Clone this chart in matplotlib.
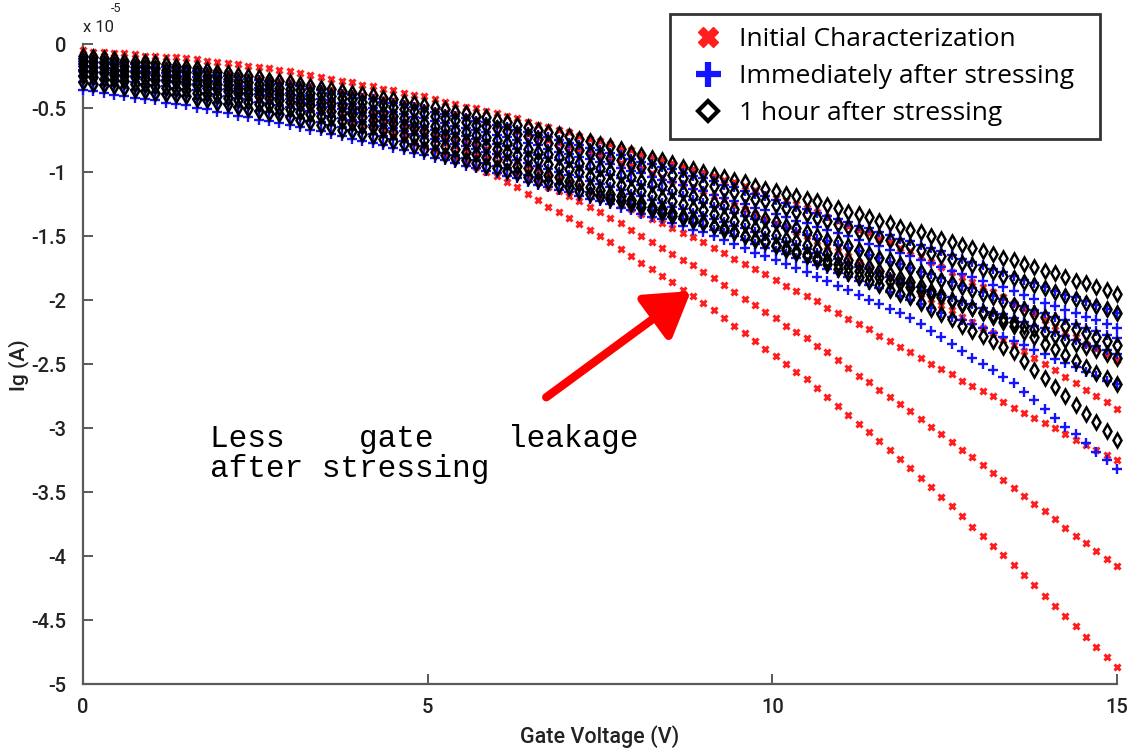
import numpy as np
import matplotlib
matplotlib.use("Agg")
import matplotlib.pyplot as plt
from matplotlib.lines import Line2D
from matplotlib.ticker import FixedLocator, FuncFormatter

plt.rcParams["axes.unicode_minus"] = False

# Gate voltage sweep, 0 V to 15 V in 0.15 V steps
gate_voltage = np.linspace(0.0, 15.0, 101)

# |Ig| for each device, in units of 0.01 x 10^-5 A (gate current is negative)
# Initial characterization
initial_1 = [5, 6, 6, 7, 7, 8, 9, 9, 10, 10, 11, 12, 13, 14, 15, 16, 17, 18, 19, 20,
             21, 23, 24, 26, 27, 29, 30, 32, 33, 35, 36, 38, 40, 41, 43, 45, 47, 49, 50, 52,
             54, 56, 58, 61, 63, 65, 67, 69, 72, 74, 76, 78, 81, 83, 86, 88, 90, 93, 95, 98,
             100, 103, 106, 108, 111, 114, 117, 120, 122, 125, 128, 131, 135, 138, 142, 145, 148, 152, 155, 159,
             162, 166, 170, 174, 178, 182, 186, 190, 194, 198, 202, 207, 211, 216, 220, 225, 229, 234, 238, 243, 247]
initial_2 = [10, 11, 12, 12, 13, 14, 15, 16, 16, 17, 18, 19, 20, 21, 22, 24, 25, 26, 27, 28,
             29, 31, 32, 34, 35, 37, 38, 40, 41, 43, 44, 46, 48, 50, 52, 54, 55, 57, 59, 61,
             63, 65, 68, 70, 73, 75, 77, 80, 82, 85, 87, 90, 93, 95, 98, 101, 104, 107, 109, 112,
             115, 119, 122, 126, 129, 133, 136, 140, 143, 147, 150, 154, 158, 162, 166, 170, 174, 178, 182, 186,
             190, 195, 199, 204, 208, 213, 217, 222, 226, 231, 235, 240, 245, 250, 255, 260, 265, 270, 275, 280, 285]
initial_3 = [13, 14, 15, 16, 17, 19, 20, 21, 22, 23, 24, 25, 27, 28, 30, 31, 32, 34, 35, 37,
             38, 40, 42, 44, 46, 48, 50, 52, 54, 56, 58, 61, 63, 66, 69, 72, 74, 77, 80, 82,
             85, 88, 92, 95, 98, 102, 105, 108, 111, 115, 118, 122, 125, 129, 133, 137, 140, 144, 148, 151,
             155, 159, 163, 168, 172, 176, 180, 184, 189, 193, 197, 201, 206, 210, 215, 219, 223, 228, 232, 237,
             241, 245, 250, 254, 258, 263, 267, 271, 275, 280, 284, 288, 292, 296, 300, 305, 309, 313, 317, 321, 325]
initial_4 = [14, 15, 16, 17, 18, 20, 21, 22, 23, 24, 25, 27, 28, 30, 31, 33, 34, 36, 37, 39,
             40, 42, 44, 47, 49, 51, 53, 55, 58, 60, 62, 65, 68, 71, 74, 77, 80, 83, 86, 89,
             92, 96, 100, 104, 108, 112, 115, 119, 123, 127, 131, 136, 140, 145, 150, 155, 159, 164, 169, 173,
             178, 183, 188, 194, 199, 204, 209, 214, 220, 225, 230, 236, 241, 247, 253, 259, 264, 270, 276, 281,
             287, 293, 299, 305, 311, 317, 323, 329, 335, 341, 347, 353, 359, 365, 371, 378, 384, 390, 396, 402, 408]
initial_5 = [15, 16, 17, 19, 20, 21, 22, 23, 25, 26, 27, 29, 30, 32, 34, 36, 37, 39, 41, 42,
             44, 47, 49, 52, 54, 57, 60, 62, 65, 67, 70, 73, 77, 80, 83, 87, 90, 93, 96, 100,
             103, 108, 112, 117, 122, 127, 131, 136, 141, 145, 150, 155, 160, 166, 171, 176, 181, 186, 192, 197,
             202, 208, 214, 220, 226, 232, 238, 244, 250, 256, 262, 269, 276, 283, 290, 297, 303, 310, 317, 324,
             331, 339, 346, 354, 361, 369, 377, 384, 392, 399, 407, 415, 423, 431, 439, 447, 455, 463, 471, 479, 487]

# Immediately after stressing
stressed_1 = [12, 13, 14, 14, 15, 16, 17, 18, 18, 19, 20, 21, 22, 24, 25, 26, 27, 28, 30, 31,
              32, 33, 35, 36, 38, 39, 40, 42, 43, 45, 46, 48, 49, 51, 53, 55, 56, 58, 60, 61,
              63, 65, 67, 69, 71, 73, 75, 77, 79, 81, 83, 85, 87, 90, 92, 94, 96, 98, 101, 103,
              105, 107, 110, 112, 115, 117, 119, 122, 124, 127, 129, 132, 134, 137, 139, 142, 144, 147, 149, 152,
              154, 157, 159, 162, 165, 168, 170, 173, 176, 178, 181, 184, 187, 190, 193, 196, 198, 201, 204, 207, 210]
stressed_2 = [16, 17, 18, 19, 20, 21, 21, 22, 23, 24, 25, 26, 28, 29, 30, 32, 33, 34, 35, 37,
              38, 40, 41, 43, 44, 46, 47, 49, 50, 52, 53, 55, 57, 58, 60, 62, 64, 66, 67, 69,
              71, 73, 75, 77, 79, 82, 84, 86, 88, 90, 92, 94, 97, 99, 101, 104, 106, 108, 110, 113,
              115, 118, 120, 123, 125, 128, 130, 133, 135, 138, 140, 143, 145, 148, 150, 153, 156, 158, 161, 163,
              166, 169, 171, 174, 177, 180, 182, 185, 188, 190, 193, 196, 199, 202, 205, 208, 210, 213, 216, 219, 222]
stressed_3 = [20, 21, 22, 23, 24, 25, 26, 27, 28, 29, 30, 31, 33, 34, 35, 37, 38, 39, 40, 42,
              43, 45, 46, 48, 49, 51, 53, 54, 56, 57, 59, 61, 63, 65, 67, 69, 70, 72, 74, 76,
              78, 80, 82, 85, 87, 89, 91, 93, 96, 98, 100, 102, 105, 107, 110, 112, 114, 117, 119, 122,
              124, 127, 129, 132, 134, 137, 139, 142, 144, 147, 149, 152, 154, 157, 159, 162, 165, 167, 170, 172,
              175, 178, 180, 183, 186, 189, 191, 194, 197, 199, 202, 205, 208, 210, 213, 216, 219, 222, 224, 227, 230]
stressed_4 = [25, 26, 27, 28, 29, 30, 31, 32, 33, 34, 35, 36, 38, 39, 41, 42, 43, 45, 46, 48,
              49, 51, 52, 54, 56, 58, 59, 61, 63, 64, 66, 68, 70, 72, 74, 76, 78, 80, 82, 84,
              86, 88, 91, 93, 95, 98, 100, 102, 104, 107, 109, 112, 114, 117, 119, 122, 124, 127, 129, 132,
              134, 137, 139, 142, 144, 147, 150, 152, 155, 157, 160, 163, 165, 168, 171, 174, 176, 179, 182, 184,
              187, 190, 192, 195, 198, 201, 203, 206, 209, 211, 214, 217, 220, 222, 225, 228, 231, 234, 236, 239, 242]
stressed_5 = [30, 31, 32, 33, 34, 36, 37, 38, 39, 40, 41, 43, 44, 46, 47, 49, 50, 52, 53, 55,
              56, 58, 60, 61, 63, 65, 67, 69, 70, 72, 74, 76, 78, 80, 82, 85, 87, 89, 91, 93,
              95, 97, 100, 102, 104, 107, 109, 111, 113, 116, 118, 120, 123, 125, 128, 130, 132, 135, 137, 140,
              142, 145, 148, 150, 153, 156, 159, 162, 164, 167, 170, 173, 176, 179, 182, 185, 188, 191, 194, 197,
              200, 203, 206, 210, 213, 216, 219, 222, 226, 229, 232, 235, 239, 242, 246, 249, 252, 256, 259, 263, 266]
stressed_6 = [36, 37, 38, 40, 41, 42, 43, 44, 46, 47, 48, 50, 51, 53, 54, 56, 57, 59, 60, 62,
              63, 65, 67, 68, 70, 72, 74, 76, 77, 79, 81, 83, 85, 87, 89, 91, 93, 95, 97, 99,
              101, 103, 105, 108, 110, 112, 114, 116, 119, 121, 123, 125, 128, 130, 133, 135, 137, 140, 142, 145,
              147, 150, 153, 156, 159, 163, 166, 169, 172, 175, 178, 182, 185, 189, 192, 196, 200, 203, 207, 210,
              214, 219, 224, 229, 234, 240, 245, 250, 255, 260, 265, 272, 278, 285, 292, 299, 305, 312, 319, 325, 332]

# 1 hour after stressing
recovered_1 = [9, 10, 11, 12, 13, 14, 14, 15, 16, 17, 18, 19, 20, 22, 23, 24, 25, 26, 28, 29,
               30, 31, 33, 34, 35, 37, 38, 39, 40, 42, 43, 45, 46, 48, 49, 51, 53, 54, 56, 57,
               59, 61, 63, 65, 67, 69, 70, 72, 74, 76, 78, 80, 82, 85, 87, 89, 91, 93, 96, 98,
               100, 102, 104, 106, 108, 111, 113, 115, 117, 119, 121, 123, 126, 128, 131, 133, 135, 138, 140, 143,
               145, 147, 150, 152, 155, 157, 159, 162, 164, 167, 169, 172, 174, 177, 179, 182, 185, 187, 190, 192, 195]
recovered_2 = [13, 14, 15, 16, 17, 18, 18, 19, 20, 21, 22, 23, 25, 26, 27, 29, 30, 31, 32, 34,
               35, 36, 38, 39, 41, 42, 43, 45, 46, 48, 49, 51, 52, 54, 56, 58, 59, 61, 63, 64,
               66, 68, 70, 72, 74, 77, 79, 81, 83, 85, 87, 89, 91, 94, 96, 98, 100, 102, 105, 107,
               109, 111, 114, 116, 119, 121, 123, 126, 128, 131, 133, 136, 138, 141, 143, 146, 148, 151, 153, 156,
               158, 161, 163, 166, 168, 171, 173, 176, 178, 181, 183, 186, 188, 191, 194, 197, 199, 202, 205, 207, 210]
recovered_3 = [17, 18, 19, 20, 21, 22, 23, 24, 25, 26, 27, 28, 30, 31, 32, 34, 35, 36, 37, 39,
               40, 42, 43, 45, 46, 48, 50, 51, 53, 54, 56, 58, 60, 62, 64, 66, 67, 69, 71, 73,
               75, 77, 79, 82, 84, 86, 88, 90, 93, 95, 97, 99, 102, 104, 107, 109, 111, 114, 116, 119,
               121, 124, 126, 129, 131, 134, 137, 139, 142, 144, 147, 150, 153, 155, 158, 161, 164, 167, 169, 172,
               175, 178, 181, 184, 187, 190, 192, 195, 198, 201, 204, 207, 210, 213, 216, 220, 223, 226, 229, 232, 235]
recovered_4 = [21, 22, 23, 24, 25, 26, 27, 28, 29, 30, 31, 32, 34, 35, 37, 38, 39, 41, 42, 44,
               45, 47, 48, 50, 52, 54, 55, 57, 59, 60, 62, 64, 66, 68, 70, 72, 74, 76, 78, 80,
               82, 84, 87, 89, 91, 94, 96, 98, 100, 103, 105, 108, 110, 113, 115, 118, 120, 123, 125, 128,
               130, 133, 135, 138, 141, 144, 146, 149, 152, 154, 157, 160, 163, 166, 169, 172, 174, 177, 180, 183,
               186, 189, 193, 196, 200, 203, 206, 210, 213, 217, 220, 225, 229, 234, 238, 243, 248, 252, 257, 261, 266]
recovered_5 = [25, 26, 27, 28, 29, 31, 32, 33, 34, 35, 36, 38, 39, 41, 42, 44, 45, 47, 48, 50,
               51, 53, 55, 56, 58, 60, 62, 64, 65, 67, 69, 71, 73, 75, 77, 80, 82, 84, 86, 88,
               90, 92, 95, 97, 100, 102, 104, 107, 109, 112, 114, 117, 119, 122, 124, 127, 129, 132, 134, 137,
               139, 142, 144, 147, 150, 153, 155, 158, 161, 163, 166, 169, 172, 176, 179, 182, 185, 188, 192, 195,
               198, 202, 207, 211, 215, 220, 224, 228, 232, 237, 241, 248, 255, 261, 268, 275, 282, 289, 295, 302, 309]
recovered_6 = [30, 31, 32, 33, 34, 36, 37, 38, 39, 40, 41, 43, 44, 46, 47, 49, 51, 52, 54, 55,
               57, 59, 61, 63, 65, 67, 68, 70, 72, 74, 76, 78, 80, 82, 84, 87, 89, 91, 93, 95,
               97, 99, 101, 104, 106, 108, 110, 112, 115, 117, 119, 121, 123, 125, 127, 130, 132, 134, 136, 138,
               140, 142, 145, 147, 150, 152, 154, 157, 159, 162, 164, 167, 169, 172, 174, 177, 180, 182, 185, 187,
               190, 193, 195, 198, 201, 204, 206, 209, 212, 214, 217, 220, 223, 225, 228, 231, 234, 237, 239, 242, 245]

initial_curves = [initial_1, initial_2, initial_3, initial_4, initial_5]
stressed_curves = [stressed_1, stressed_2, stressed_3, stressed_4, stressed_5, stressed_6]
recovered_curves = [recovered_1, recovered_2, recovered_3, recovered_4, recovered_5, recovered_6]

series_labels = ["Initial Characterization", "Immediately after stressing", "1 hour after stressing"]
y_ticks = [0, -0.5, -1, -1.5, -2, -2.5, -3, -3.5, -4, -4.5, -5]
x_ticks = [0, 5, 10, 15]

UNIT = 1e-7  # list units -> amperes
SCALE = 1e-5

RED = "#ff1f1f"
BLUE = "#1414ff"
AXIS_FONT = "Roboto"

W, H = 1132, 751
fig = plt.figure(figsize=(W / 100, H / 100), dpi=100)
ax = fig.add_axes([83 / W, 1 - 684 / H, 1034 / W, 640 / H])

for curve in initial_curves:
    ax.plot(gate_voltage, -np.asarray(curve) * UNIT, ls="none", marker="x",
            ms=4.0, mew=2.2, color=RED, clip_on=False, zorder=3)
for curve in stressed_curves:
    ax.plot(gate_voltage, -np.asarray(curve) * UNIT, ls="none", marker="+",
            ms=7.0, mew=1.7, color=BLUE, clip_on=False, zorder=4)
for curve in recovered_curves:
    ax.plot(gate_voltage, -np.asarray(curve) * UNIT, ls="none", marker="d",
            ms=6.8, mew=1.8, mfc="none", mec="black", clip_on=False, zorder=5)

ax.set_xlim(0, 15)
ax.set_ylim(-5 * SCALE, 0)

ax.yaxis.set_major_locator(FixedLocator([v * SCALE for v in y_ticks]))
ax.yaxis.set_major_formatter(FuncFormatter(lambda v, p: "%g" % round(v / SCALE, 2)))
ax.xaxis.set_major_locator(FixedLocator(x_ticks))
ax.xaxis.set_major_formatter(FuncFormatter(lambda v, p: "%g" % v))

for side in ("top", "right"):
    ax.spines[side].set_visible(False)
for side in ("left", "bottom"):
    ax.spines[side].set_color("#5a5a5a")
    ax.spines[side].set_linewidth(1.6)
ax.tick_params(direction="in", length=7, width=1.4, color="#5a5a5a",
               labelsize=14.5, labelcolor="#222222")
ax.tick_params(axis="y", pad=12)
ax.tick_params(axis="x", pad=10)
for lab in ax.get_xticklabels() + ax.get_yticklabels():
    lab.set_fontfamily(AXIS_FONT)
    lab.set_fontweight("medium")

ax.set_xlabel("Gate Voltage (V)", fontsize=15.5, color="#222222", labelpad=6,
              family=AXIS_FONT, weight="medium")
ax.set_ylabel("Ig (A)", fontsize=15, color="#222222",
              family=AXIS_FONT, weight="medium")
ax.yaxis.set_label_coords(-54 / 1034, (684 - 365) / 640)

# exponent marker at the top of the y axis
ax.text(0.0, 1.014, "x 10", transform=ax.transAxes, ha="left", va="bottom",
        fontsize=12, color="#222222", family=AXIS_FONT)
ax.text(0.027, 1.045, "-5", transform=ax.transAxes, ha="left", va="bottom",
        fontsize=9, color="#222222", family=AXIS_FONT)

handles = [
    Line2D([], [], ls="none", marker="X", ms=14, color=RED, mec=RED),
    Line2D([], [], ls="none", marker="+", ms=18, mew=4.5, color=BLUE),
    Line2D([], [], ls="none", marker="D", ms=10, mew=3, mfc="none", mec="black"),
]
# legend box spans a fixed width; entries sit at its left side
leg_x0 = (670 - 83) / 1034
leg_w = 430 / 1034
leg_top = 1 + 30 / 640
leg = ax.legend(handles, series_labels, loc="upper left", mode="expand",
                bbox_to_anchor=(leg_x0, leg_top - 0.5, leg_w, 0.5),
                frameon=True, fancybox=False, edgecolor="black",
                prop={"family": "Open Sans", "size": 19}, handlelength=1.9,
                handletextpad=0.2, borderpad=0.5, labelspacing=0.45,
                borderaxespad=0.0)
leg.get_frame().set_linewidth(2.0)

fig.text(210 / W, 1 - 424 / H, "Less    gate    leakage\nafter stressing",
         family="Liberation Mono", fontsize=22.4, ha="left", va="top",
         linespacing=1.0, color="black")

ax.annotate("", xy=(8.82, -1.93 * SCALE), xytext=(6.72, -2.76 * SCALE),
            arrowprops=dict(arrowstyle="-|>,head_length=1.2,head_width=0.75",
                            lw=6, color="#ff0000", mutation_scale=22,
                            shrinkA=0, shrinkB=0), zorder=6)

fig.savefig("out.png", dpi=100)
